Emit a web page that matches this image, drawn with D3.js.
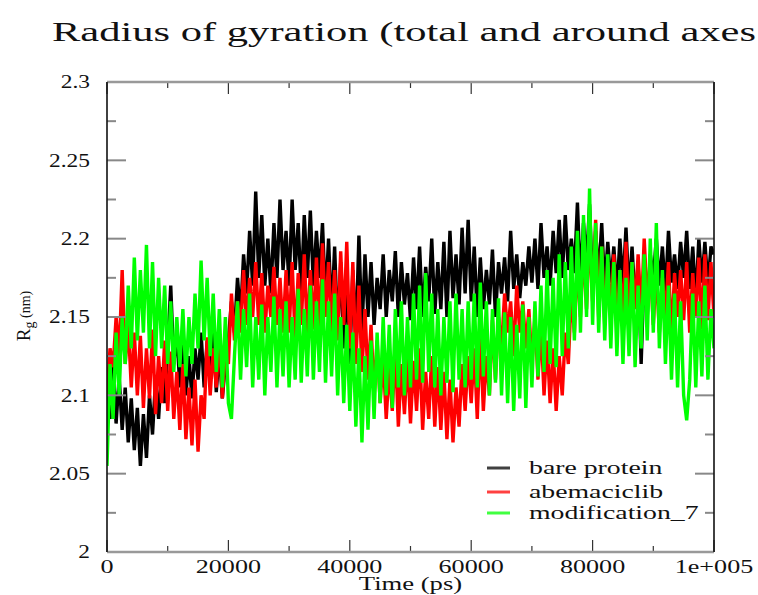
<!DOCTYPE html>
<html>
<head>
<meta charset="utf-8">
<script src="https://cdn.jsdelivr.net/npm/d3@7"></script>
<style>
  body { margin: 0; background: #fff; }
  text { font-family: 'Liberation Serif', 'DejaVu Serif', serif; fill: #111; }
</style>
</head>
<body>
<svg width="758" height="595"></svg>
<script>
(function (d3) {
  'use strict';

  // time step between samples (ps)
  const timeStep = 500;

  const bareProtein = [
    2.110, 2.085, 2.118, 2.082, 2.112, 2.078, 2.105, 2.070, 2.098, 2.065,
    2.092, 2.055, 2.088, 2.060, 2.100, 2.075, 2.110, 2.085, 2.118, 2.095,
    2.130, 2.170, 2.120, 2.140, 2.105, 2.135, 2.100, 2.125, 2.098, 2.130,
    2.110, 2.140, 2.105, 2.135, 2.115, 2.145, 2.102, 2.128, 2.098, 2.120,
    2.135, 2.160, 2.140, 2.175, 2.150, 2.190, 2.165, 2.205, 2.170, 2.230,
    2.175, 2.215, 2.170, 2.200, 2.165, 2.210, 2.175, 2.225, 2.180, 2.205,
    2.170, 2.225, 2.180, 2.210, 2.165, 2.215, 2.175, 2.218, 2.170, 2.205,
    2.175, 2.210, 2.160, 2.200, 2.150, 2.195, 2.140, 2.185, 2.130, 2.175,
    2.120, 2.180, 2.135, 2.202, 2.140, 2.190, 2.150, 2.185, 2.145, 2.175,
    2.155, 2.190, 2.150, 2.180, 2.160, 2.192, 2.150, 2.185, 2.158, 2.178,
    2.148, 2.188, 2.155, 2.195, 2.150, 2.182, 2.160, 2.200, 2.152, 2.185,
    2.155, 2.198, 2.150, 2.205, 2.162, 2.190, 2.158, 2.207, 2.165, 2.212,
    2.160, 2.195, 2.150, 2.188, 2.155, 2.180, 2.158, 2.193, 2.150, 2.185,
    2.165, 2.188, 2.160, 2.205, 2.168, 2.190, 2.162, 2.185, 2.170, 2.195,
    2.172, 2.200, 2.168, 2.210, 2.175, 2.195, 2.170, 2.205, 2.178, 2.212,
    2.175, 2.215, 2.180, 2.200, 2.178, 2.223, 2.172, 2.210, 2.185, 2.222,
    2.170, 2.205, 2.175, 2.210, 2.168, 2.198, 2.172, 2.195, 2.165, 2.200,
    2.170, 2.207, 2.165, 2.195, 2.158, 2.185, 2.120, 2.180, 2.150, 2.190,
    2.175, 2.200, 2.170, 2.195, 2.165, 2.205, 2.172, 2.190, 2.168, 2.198,
    2.175, 2.205, 2.168, 2.195, 2.160, 2.200, 2.172, 2.198, 2.170, 2.195,
    2.190
  ];

  const abemaciclib = [
    2.100, 2.130, 2.118, 2.150, 2.125, 2.180, 2.120, 2.145, 2.105, 2.140,
    2.100, 2.138, 2.092, 2.130, 2.098, 2.142, 2.088, 2.125, 2.095, 2.135,
    2.090, 2.128, 2.085, 2.115, 2.078, 2.120, 2.072, 2.105, 2.068, 2.110,
    2.064, 2.100, 2.085, 2.137, 2.100, 2.130, 2.105, 2.140, 2.098, 2.128,
    2.120, 2.165, 2.135, 2.160, 2.140, 2.180, 2.145, 2.175, 2.150, 2.185,
    2.145, 2.178, 2.140, 2.170, 2.150, 2.182, 2.145, 2.175, 2.140, 2.180,
    2.140, 2.185, 2.135, 2.178, 2.145, 2.190, 2.138, 2.180, 2.142, 2.188,
    2.140, 2.197, 2.150, 2.185, 2.140, 2.180, 2.135, 2.192, 2.145, 2.198,
    2.130, 2.185, 2.120, 2.170, 2.115, 2.155, 2.110, 2.145, 2.100, 2.135,
    2.095, 2.125, 2.085, 2.118, 2.090, 2.130, 2.080, 2.120, 2.088, 2.125,
    2.082, 2.122, 2.090, 2.130, 2.078, 2.115, 2.085, 2.125, 2.080, 2.118,
    2.078, 2.115, 2.072, 2.110, 2.070, 2.105, 2.080, 2.120, 2.090, 2.125,
    2.095, 2.130, 2.085, 2.140, 2.090, 2.125, 2.100, 2.148, 2.110, 2.150,
    2.130, 2.165, 2.140, 2.160, 2.125, 2.170, 2.140, 2.160, 2.130, 2.155,
    2.120, 2.150, 2.110, 2.145, 2.100, 2.135, 2.095, 2.130, 2.090, 2.125,
    2.100, 2.140, 2.120, 2.165, 2.140, 2.185, 2.150, 2.195, 2.155, 2.205,
    2.160, 2.212, 2.150, 2.195, 2.145, 2.185, 2.150, 2.190, 2.140, 2.180,
    2.150, 2.198, 2.145, 2.185, 2.155, 2.190, 2.150, 2.200, 2.160, 2.185,
    2.145, 2.180, 2.140, 2.175, 2.150, 2.185, 2.135, 2.178, 2.150, 2.180,
    2.148, 2.185, 2.140, 2.178, 2.150, 2.188, 2.142, 2.190, 2.148, 2.185,
    2.150
  ];

  const modification7 = [
    2.055, 2.120, 2.085, 2.140, 2.100, 2.150, 2.120, 2.170, 2.130, 2.188,
    2.135, 2.180, 2.140, 2.196, 2.130, 2.185, 2.125, 2.175, 2.130, 2.170,
    2.120, 2.160, 2.115, 2.150, 2.118, 2.155, 2.112, 2.150, 2.120, 2.165,
    2.130, 2.186, 2.135, 2.175, 2.125, 2.165, 2.115, 2.155, 2.105, 2.150,
    2.095, 2.085, 2.125, 2.160, 2.110, 2.155, 2.118, 2.165, 2.105, 2.150,
    2.110, 2.158, 2.100, 2.150, 2.115, 2.163, 2.105, 2.155, 2.112, 2.160,
    2.105, 2.150, 2.110, 2.168, 2.108, 2.155, 2.112, 2.170, 2.110, 2.160,
    2.115, 2.174, 2.108, 2.160, 2.112, 2.165, 2.100, 2.150, 2.095, 2.145,
    2.090, 2.140, 2.080, 2.130, 2.070, 2.125, 2.078, 2.135, 2.085, 2.140,
    2.095, 2.150, 2.100, 2.145, 2.092, 2.155, 2.105, 2.160, 2.100, 2.150,
    2.105, 2.165, 2.110, 2.170, 2.108, 2.178, 2.115, 2.165, 2.105, 2.155,
    2.100, 2.150, 2.108, 2.160, 2.102, 2.165, 2.110, 2.155, 2.105, 2.160,
    2.110, 2.165, 2.105, 2.172, 2.112, 2.160, 2.100, 2.155, 2.108, 2.162,
    2.100, 2.153, 2.095, 2.150, 2.090, 2.145, 2.098, 2.158, 2.092, 2.150,
    2.105, 2.160, 2.112, 2.170, 2.115, 2.180, 2.120, 2.175, 2.118, 2.190,
    2.125, 2.185, 2.130, 2.195, 2.135, 2.205, 2.140, 2.215, 2.150, 2.232,
    2.145, 2.210, 2.140, 2.195, 2.135, 2.190, 2.130, 2.185, 2.125, 2.180,
    2.120, 2.175, 2.125, 2.185, 2.118, 2.170, 2.130, 2.190, 2.135, 2.200,
    2.140, 2.210, 2.130, 2.180, 2.120, 2.170, 2.110, 2.165, 2.105, 2.160,
    2.100, 2.084, 2.110, 2.165, 2.105, 2.160, 2.112, 2.170, 2.110, 2.155,
    2.130
  ];

  const seriesNames = ['bare protein', 'abemaciclib', 'modification_7'];
  const seriesColors = ['#000000', '#ff0000', '#00ff00'];
  const seriesValues = [bareProtein, abemaciclib, modification7];

  const xTickValues = [0, 20000, 40000, 60000, 80000, 100000];
  const xTickLabels = ['0', '20000', '40000', '60000', '80000', '1e+005'];
  const yTickValues = [2, 2.05, 2.1, 2.15, 2.2, 2.25, 2.3];
  const yTickLabels = ['2', '2.05', '2.1', '2.15', '2.2', '2.25', '2.3'];

  const title = 'Radius of gyration (total and around axes';

  const svg = d3.select('svg');

  const margin = { top: 82, right: 44, bottom: 43, left: 107 };
  const width = +svg.attr('width');
  const height = +svg.attr('height');
  const innerWidth = width - margin.left - margin.right;
  const innerHeight = height - margin.top - margin.bottom;

  // text in the picture is stretched sideways
  const stretch = (sel, factor) => {
    sel.each(function () {
      const w = this.getComputedTextLength();
      d3.select(this)
        .attr('textLength', w * factor)
        .attr('lengthAdjust', 'spacingAndGlyphs');
    });
  };

  const xScale = d3.scaleLinear()
    .domain([0, 100000])
    .range([0, innerWidth]);

  const yScale = d3.scaleLinear()
    .domain([2, 2.3])
    .range([innerHeight, 0]);

  const g = svg.append('g')
    .attr('transform', `translate(${margin.left},${margin.top})`);

  g.append('clipPath').attr('id', 'plot-clip')
    .append('rect')
      .attr('width', innerWidth)
      .attr('height', innerHeight);

  const line = d3.line()
    .x((d, i) => xScale(i * timeStep))
    .y(d => yScale(d));

  const linesG = g.append('g').attr('clip-path', 'url(#plot-clip)');
  seriesValues.forEach((values, i) => {
    linesG.append('path')
      .datum(values)
      .attr('fill', 'none')
      .attr('stroke', seriesColors[i])
      .attr('stroke-width', 3.4)
      .attr('stroke-linejoin', 'bevel')
      .attr('d', line);
  });

  // ticks pointing inward on all four sides
  const xMinor = d3.range(0, 100001, 10000);
  const yMinor = d3.range(0, 13).map(i => 2 + i * 0.025);

  const tickG = g.append('g').attr('stroke', '#333');
  xMinor.forEach((t, i) => {
    const len = i % 2 === 0 ? 12 : 6;
    tickG.append('line')
      .attr('x1', xScale(t)).attr('x2', xScale(t))
      .attr('y1', innerHeight).attr('y2', innerHeight - len)
      .attr('stroke-width', 1.2);
    tickG.append('line')
      .attr('x1', xScale(t)).attr('x2', xScale(t))
      .attr('y1', 0).attr('y2', len)
      .attr('stroke-width', 1.2);
  });
  yMinor.forEach((v, i) => {
    const len = i % 2 === 0 ? 19 : 9;
    tickG.append('line')
      .attr('x1', 0).attr('x2', len)
      .attr('y1', yScale(v)).attr('y2', yScale(v))
      .attr('stroke', '#888')
      .attr('stroke-width', 2);
    tickG.append('line')
      .attr('x1', innerWidth).attr('x2', innerWidth - len)
      .attr('y1', yScale(v)).attr('y2', yScale(v))
      .attr('stroke', '#888')
      .attr('stroke-width', 2);
  });

  // frame
  g.append('line')
    .attr('x1', 0).attr('x2', innerWidth).attr('y1', 0).attr('y2', 0)
    .attr('stroke', '#999').attr('stroke-width', 2.5);
  g.append('line')
    .attr('x1', 0).attr('x2', innerWidth).attr('y1', innerHeight).attr('y2', innerHeight)
    .attr('stroke', '#999').attr('stroke-width', 2.5);
  g.append('line')
    .attr('x1', 0).attr('x2', 0).attr('y1', 0).attr('y2', innerHeight)
    .attr('stroke', '#111').attr('stroke-width', 1.6);
  g.append('line')
    .attr('x1', innerWidth).attr('x2', innerWidth).attr('y1', 0).attr('y2', innerHeight)
    .attr('stroke', '#111').attr('stroke-width', 1.6);

  // tick labels
  g.selectAll('.x-label').data(xTickValues)
    .enter().append('text')
      .attr('class', 'x-label')
      .attr('x', d => xScale(d))
      .attr('y', innerHeight + 21)
      .attr('text-anchor', 'middle')
      .attr('font-size', 18)
      .text((d, i) => xTickLabels[i])
      .call(stretch, 1.45);

  g.selectAll('.y-label').data(yTickValues)
    .enter().append('text')
      .attr('class', 'y-label')
      .attr('x', -17)
      .attr('y', d => yScale(d))
      .attr('dy', '0.35em')
      .attr('text-anchor', 'end')
      .attr('font-size', 18)
      .text((d, i) => yTickLabels[i])
      .call(stretch, 1.3);

  // axis titles
  g.append('text')
    .attr('x', innerWidth / 2)
    .attr('y', innerHeight + 38)
    .attr('text-anchor', 'middle')
    .attr('font-size', 19)
    .text('Time (ps)')
    .call(stretch, 1.4);

  const yTitle = svg.append('text')
    .attr('transform', 'translate(30,316) rotate(-90)')
    .attr('text-anchor', 'middle')
    .attr('fill', '#444');
  yTitle.append('tspan').attr('font-size', 19).text('R');
  yTitle.append('tspan').attr('font-size', 14).attr('dy', 4).text('g');
  yTitle.append('tspan').attr('font-size', 14).attr('dy', -4).text(' (nm)');

  // title
  svg.append('text')
    .attr('x', 52)
    .attr('y', 41)
    .attr('font-size', 27)
    .attr('textLength', 704)
    .attr('lengthAdjust', 'spacingAndGlyphs')
    .text(title);

  // legend
  const legendG = svg.append('g')
    .attr('transform', 'translate(487,468)');
  const legendRows = [0, 24, 45];
  seriesNames.forEach((name, i) => {
    legendG.append('line')
      .attr('x1', 0).attr('x2', 23)
      .attr('y1', legendRows[i]).attr('y2', legendRows[i])
      .attr('stroke', seriesColors[i])
      .attr('stroke-opacity', 0.75)
      .attr('stroke-width', 3);
    legendG.append('text')
      .attr('x', 42)
      .attr('y', legendRows[i])
      .attr('dy', '0.3em')
      .attr('font-size', 18.5)
      .text(name)
      .call(stretch, 1.5);
  });

}(d3));
</script>
</body>
</html>
